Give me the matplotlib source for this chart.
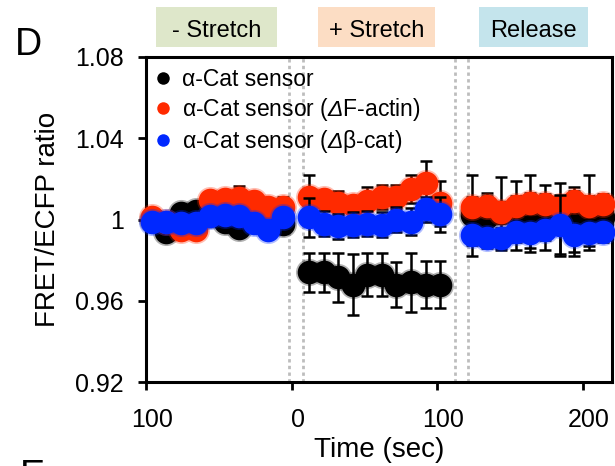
import matplotlib
matplotlib.use("Agg")
import matplotlib.pyplot as plt
from matplotlib.lines import Line2D
from matplotlib.patches import Rectangle
import matplotlib.transforms as mtransforms

plt.rcParams['font.family'] = ['Liberation Sans', 'DejaVu Sans']
plt.rcParams['mathtext.fontset'] = 'custom'
plt.rcParams['mathtext.rm'] = 'Liberation Sans'
plt.rcParams['mathtext.sf'] = 'Liberation Sans:italic'

# ---------------- data ----------------
t_pre = [-96, -86, -76, -66, -56, -46, -36, -26, -16, -6]
t_stretch = [12, 22, 32, 42, 52, 62, 72, 82, 92, 102]
t_release = [124, 134, 144, 154, 164, 174, 184, 194, 204, 214]

black_pre = [1.000, 0.9937, 1.003, 1.004, 1.002, 0.999, 0.996, 1.000, 0.997, 0.998]
black_pre_err = [0.004, 0.004, 0.004, 0.004, 0.004, 0.004, 0.004, 0.004, 0.004, 0.004]
red_pre = [1.001, 0.999, 0.995, 0.995, 1.0095, 1.010, 1.0105, 1.009, 1.006, 1.006]
red_pre_err = [0.003, 0.003, 0.003, 0.003, 0.004, 0.004, 0.006, 0.003, 0.004, 0.005]
blue_pre = [0.999, 0.999, 0.9985, 0.9985, 1.0015, 1.002, 1.0015, 0.9985, 0.995, 1.001]
blue_pre_err = [0.003, 0.003, 0.003, 0.003, 0.003, 0.003, 0.003, 0.003, 0.003, 0.003]

black_st = [0.974, 0.974, 0.9716, 0.968, 0.9728, 0.9728, 0.968, 0.969, 0.968, 0.968]
black_st_err = [0.0095, 0.0095, 0.012, 0.015, 0.0107, 0.0107, 0.011, 0.0144, 0.0116, 0.0116]
red_st = [1.011, 1.010, 1.008, 1.007, 1.009, 1.011, 1.011, 1.015, 1.018, 1.008]
red_st_err = [0.011, 0.004, 0.006, 0.004, 0.007, 0.006, 0.006, 0.007, 0.011, 0.011]
blue_st = [1.001, 0.998, 0.9966, 0.9975, 0.998, 0.9975, 1.000, 0.999, 1.005, 1.0025]
blue_st_err = [0.0095, 0.006, 0.006, 0.006, 0.006, 0.006, 0.006, 0.0065, 0.006, 0.0085]

black_rel = [1.002, 1.001, 1.003, 1.002, 1.003, 1.001, 1.000, 0.999, 1.0035, 1.001]
black_rel_err = [0.020, 0.012, 0.018, 0.017, 0.019, 0.016, 0.018, 0.017, 0.0185, 0.010]
red_rel = [1.006, 1.0065, 1.0035, 1.0065, 1.008, 1.0075, 1.0065, 1.009, 1.0065, 1.0075]
red_rel_err = [0.005, 0.005, 0.005, 0.005, 0.005, 0.005, 0.005, 0.005, 0.005, 0.005]
blue_rel = [0.9926, 0.991, 0.991, 0.994, 0.9935, 0.995, 0.9975, 0.9926, 0.9935, 0.994]
blue_rel_err = [0.005, 0.005, 0.005, 0.005, 0.0075, 0.005, 0.0145, 0.0086, 0.0065, 0.005]

series_labels = ['α-Cat sensor',
                 r'α-Cat sensor ($\mathsf{Δ}$F-actin)',
                 r'α-Cat sensor ($\mathsf{Δ}$β-cat)']
series_colors = ['#000000', '#FF2A00', '#0028FF']

phase_labels = ['- Stretch', '+ Stretch', 'Release']
phase_colors = ['#DEE7CA', '#FCDDC4', '#C4E4EC']
boundary_lines = [-1.5, 7.5, 112.3, 121.2]

x_ticks = [-100, 0, 100, 200]
x_ticklabels = ['100', '0', '100', '200']
y_ticks = [0.92, 0.96, 1.0, 1.04, 1.08]
y_ticklabels = ['0.92', '0.96', '1', '1.04', '1.08']

# ---------------- figure ----------------
W, H = 615, 466
fig = plt.figure(figsize=(W / 100, H / 100), dpi=100)
ax = fig.add_axes([146 / W, 1 - 382 / H, (612 - 146) / W, (382 - 57) / H])

for xv in boundary_lines:
    ax.axvline(xv, color='#BDBDBD', lw=2.0, ls=(0, (1.2, 1.2)), zorder=0.5)

groups = [
    ([black_pre, black_st, black_rel], [black_pre_err, black_st_err, black_rel_err]),
    ([red_pre, red_st, red_rel], [red_pre_err, red_st_err, red_rel_err]),
    ([blue_pre, blue_st, blue_rel], [blue_pre_err, blue_st_err, blue_rel_err]),
]
times = [t_pre, t_stretch, t_release]

for k, (vals, errs) in enumerate(groups):
    col = series_colors[k]
    z = 2 + k * 2
    for t, v, e in zip(times, vals, errs):
        eb = ax.errorbar(t, v, yerr=e, fmt='none', ecolor='black', elinewidth=1.8,
                         capsize=4.5, capthick=1.8, zorder=z)
        for art in eb.lines[1] + eb.lines[2]:
            art.set_clip_on(False)
        h, = ax.plot(t, v, 'o', color=col, ms=19.5, mew=0, alpha=0.3, zorder=z + 0.5)
        m, = ax.plot(t, v, 'o', color=col, ms=17.0, mew=0, zorder=z + 0.6)
        h.set_clip_on(False)
        m.set_clip_on(False)

ax.set_xlim(-100, 220)
ax.set_ylim(0.92, 1.08)
ax.set_xticks(x_ticks)
ax.set_xticklabels(x_ticklabels)
ax.set_yticks(y_ticks)
ax.set_yticklabels(y_ticklabels)
ax.tick_params(axis='both', direction='out', length=6, width=2, labelsize=18)
ax.tick_params(axis='x', pad=13)
ax.tick_params(axis='y', pad=10)
for lab in ax.get_xticklabels():
    lab.set_transform(lab.get_transform() + mtransforms.ScaledTranslation(6 / 100, 0, fig.dpi_scale_trans))
for sp in ax.spines.values():
    sp.set_linewidth(2.2)

ax.set_xlabel('Time (sec)', fontsize=20, labelpad=3)
ax.set_ylabel('FRET/ECFP ratio', fontsize=20, labelpad=10)

handles = [Line2D([], [], ls='none', marker='o', color=c, ms=9, mew=0) for c in series_colors]
ax.legend(handles, series_labels, loc='upper left', bbox_to_anchor=(0.0, 0.99),
          frameon=False, fontsize=16.5, handlelength=0.8, handletextpad=0.4,
          labelspacing=0.22, borderaxespad=0.15, borderpad=0.2)

# phase header boxes
boxes = [(156, 277), (318, 435), (479, 588)]
for (x0, x1), lab, c in zip(boxes, phase_labels, phase_colors):
    fig.patches.append(Rectangle((x0 / W, 1 - 47 / H), (x1 - x0) / W, 40 / H,
                                 transform=fig.transFigure, facecolor=c, edgecolor='none'))
    fig.text((x0 + x1) / 2 / W, 1 - 31 / H, lab, ha='center', va='center', fontsize=17)

fig.text(15 / W, 1 - 55 / H, 'D', fontsize=27, ha='left', va='baseline')
fig.text(20 / W, 1 - 487 / H, 'E', fontsize=27, ha='left', va='baseline')

fig.savefig('out.png', dpi=100)
